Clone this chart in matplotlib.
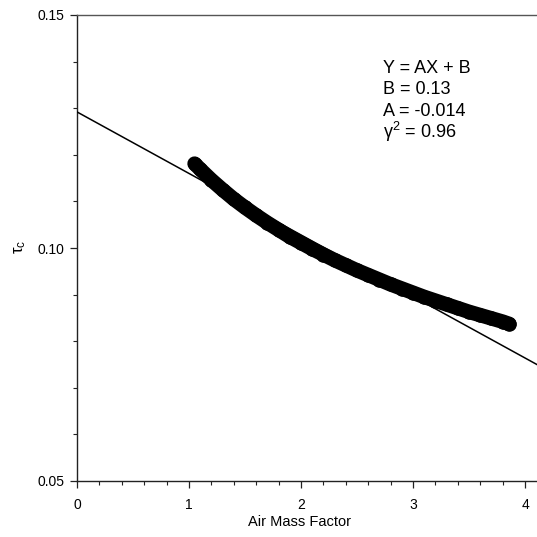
import numpy as np
import matplotlib
matplotlib.use('Agg')
import matplotlib.pyplot as plt
from matplotlib.ticker import MultipleLocator

plt.rcParams['font.family'] = ['Liberation Sans', 'DejaVu Sans']
plt.rcParams['mathtext.fontset'] = 'stix'

#==============================================================================
# data
#==============================================================================
amf = [1.05, 1.1, 1.2, 1.3, 1.4, 1.5, 1.6, 1.7, 1.8, 1.9, 2.0,
       2.1, 2.2, 2.3, 2.4, 2.5, 2.6, 2.7, 2.8, 2.9, 3.0,
       3.1, 3.2, 3.3, 3.4, 3.5, 3.6, 3.7, 3.8, 3.86]
tau = [0.1181, 0.1169, 0.1146, 0.1125, 0.1105, 0.1087, 0.1070, 0.1054, 0.1039, 0.1024, 0.1011,
       0.0998, 0.0986, 0.0974, 0.0963, 0.0952, 0.0942, 0.0932, 0.0922, 0.0913, 0.0904,
       0.0895, 0.0887, 0.0879, 0.0871, 0.0863, 0.0856, 0.0849, 0.0842, 0.0837]

fit_b = 0.1292
fit_a = -0.0132
fit_text = ['Y = AX + B', 'B = 0.13', 'A = -0.014', r'$\mathregular{\gamma^2}$ = 0.96']

#==============================================================================
# figure
#==============================================================================
fig = plt.figure(figsize=(5.37, 5.37), dpi=100)
W = 537.
ax = fig.add_axes([77/W, 56/W, 481/W, 466/W])
xmax = 481/112.

# dense scatter of points -> drawn as a thick round-capped band
ax.plot(amf, tau, color='black', marker='o', ms=10.5, mew=0, lw=10.5,
        solid_capstyle='round', solid_joinstyle='round', zorder=2)

xl = np.array([0, xmax])
ax.plot(xl, fit_a*xl + fit_b, color='black', lw=1.1, zorder=3)

ax.set_xlim(0, xmax)
ax.set_ylim(0.05, 0.15)
ax.xaxis.set_major_locator(MultipleLocator(1))
ax.xaxis.set_minor_locator(MultipleLocator(0.2))
ax.yaxis.set_major_locator(MultipleLocator(0.05))
ax.yaxis.set_minor_locator(MultipleLocator(0.01))
ax.yaxis.set_major_formatter(matplotlib.ticker.FormatStrFormatter('%.2f'))

ax.tick_params(which='major', direction='out', length=5, width=0.9,
               labelsize=10, color='#222222')
ax.tick_params(which='minor', direction='out', length=3, width=0.8, color='#222222')
ax.tick_params(axis='y', which='major', pad=4)
ax.tick_params(axis='x', which='major', pad=7)
for s in ['left', 'bottom']:
    ax.spines[s].set_color('#222222')
    ax.spines[s].set_linewidth(1.0)
ax.spines['top'].set_color('#555555')
ax.spines['top'].set_linewidth(1.0)
ax.spines['right'].set_visible(False)

fig.text(300/W, 1-522/W, 'Air Mass Factor', fontsize=10.5, ha='center', va='center')
fig.text(20/W, 1-247/W, r'$\mathregular{\tau_c}$', rotation=90, fontsize=12,
         ha='center', va='center')

for i, t in enumerate(fit_text):
    fig.text(383/W, 1-(73+21.5*i)/W, t, fontsize=13, ha='left', va='baseline')

plt.savefig('out.png', dpi=100)
